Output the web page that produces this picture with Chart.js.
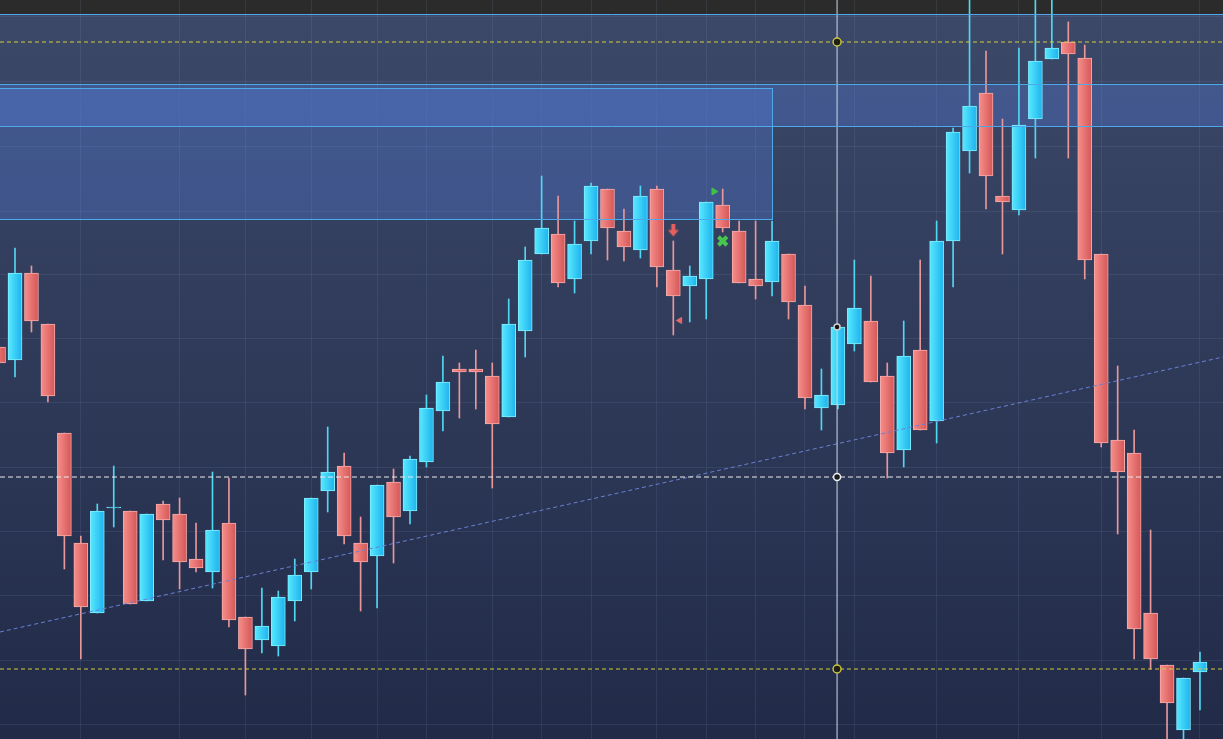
<!DOCTYPE html>
<html>
<head>
<meta charset="utf-8">
<script src="https://cdn.jsdelivr.net/npm/chart.js@4.4.1/dist/chart.umd.min.js"></script>
<style>
  html, body { margin: 0; padding: 0; overflow: hidden; background: #2b3654; }
  #wrap { width: 1223px; height: 739px; position: relative; }
</style>
</head>
<body>
<div id="wrap"><canvas id="chart"></canvas></div>
<script>
// candle values (points)
const opens  = [392,379,466,415,306,196,126,231,228,138,235,225,180,167,216,122,99,93,138,167,248,273,196,183,257,228,277,328,370,370,363,322,408,485,505,460,498,550,508,489,550,469,453,460,534,508,460,457,485,434,331,334,395,418,363,289,389,318,498,588,646,543,529,620,680,697,681,485,299,286,126,74,9,67];
const highs  = [395,491,473,415,306,203,235,273,228,225,238,241,216,267,261,122,151,148,180,241,312,286,222,254,270,283,344,383,376,389,376,440,492,563,543,518,556,550,530,553,553,498,473,537,550,518,518,518,485,453,370,415,479,463,376,418,479,518,611,759,688,620,691,759,759,717,694,485,373,309,209,74,61,87];
const lows   = [373,362,407,337,170,80,126,212,135,138,179,150,167,151,112,44,86,83,118,150,227,195,128,131,176,215,272,308,321,330,251,322,382,485,452,446,485,479,478,481,452,404,417,420,507,456,440,443,420,330,309,330,388,357,261,272,309,296,452,566,530,485,524,581,680,581,460,292,205,80,70,-21,-21,29];
const closes = [376,466,418,343,203,132,228,232,135,225,219,177,171,209,119,90,113,142,164,241,267,203,177,254,222,280,331,357,367,367,315,415,479,511,456,495,553,511,492,543,472,443,463,537,511,456,453,498,437,341,344,412,431,357,286,383,309,498,607,633,563,537,614,678,691,685,479,296,267,110,80,36,61,77];

// grid positions (candle index / price points)
const gridX = [5, 11, 15, 19, 23, 26, 30, 33, 36, 40, 43, 46, 49, 52, 57, 62, 67, 73];
const gridY = [15, 79, 144, 208, 272, 336, 401, 465, 528, 593, 658, 722];

// drawn levels and zones
const topLevel = 725;
const yellowHigh = 697;
const yellowLow = 70;
const whiteLevel = 262;
const band = [613, 655];
const box = { to: 47, lo: 520, hi: 651 };
const crossIdx = 50.95;
const crossMarks = [697, 412, 262, 70];
const trendX = [0.0886, 74.4];
const trendY = [107, 382];

// signal markers
const downArrow = { x: 41, y: 508.5 };
const greenTri = { x: 43.47, y: 547.5 };
const greenCross = { x: 44, y: 498 };
const redTri = { x: 41.4, y: 418.5 };

const X_MIN = 0.0886, X_MAX = 74.4;

const isUp = i => closes[i] >= opens[i];
const bodies = opens.map((o, i) => ({ x: i, y: [o, closes[i]] }));
const wicks = opens.map((o, i) => ({ x: i, y: [lows[i], highs[i]] }));
const wickColors = opens.map((o, i) => isUp(i) ? '#4fd8f2' : '#e8979a');
const bodyBorders = opens.map((o, i) => isUp(i) ? '#7eeeff' : '#f6a9a9');

function bodyFill(ctx) {
  const i = ctx.dataIndex;
  if (ctx.type !== 'data' || i === undefined) return '#30cdf5';
  const up = isUp(i);
  const xs = ctx.chart.scales.x;
  const px = xs ? xs.getPixelForValue(i) : NaN;
  if (!isFinite(px)) return up ? '#30cdf5' : '#e46f6f';
  const g = ctx.chart.ctx.createLinearGradient(px - 7, 0, px + 7, 0);
  if (up) { g.addColorStop(0, '#58e9fe'); g.addColorStop(1, '#1db2ee'); }
  else { g.addColorStop(0, '#f68e8a'); g.addColorStop(1, '#d45757'); }
  return g;
}

function hline(v, color, dash) {
  return {
    type: 'line', data: [{ x: X_MIN, y: v }, { x: X_MAX, y: v }],
    borderColor: color, borderWidth: 1, borderDash: dash, pointRadius: 0, order: 3
  };
}

const arrowImg = document.createElement('canvas');
arrowImg.width = 11; arrowImg.height = 14;
(function () {
  const a = arrowImg.getContext('2d');
  a.fillStyle = '#e6615d';
  a.fillRect(3.5, 0, 4, 7);
  a.beginPath(); a.moveTo(0, 6.5); a.lineTo(11, 6.5); a.lineTo(5.5, 13); a.closePath(); a.fill();
})();

const scene = {
  id: 'scene',
  beforeDraw(chart) {
    const { ctx, width, height, scales: { y } } = chart;
    ctx.save();
    const g = ctx.createLinearGradient(0, 0, 0, height);
    g.addColorStop(0, '#3d4969');
    g.addColorStop(0.5, '#2f3a59');
    g.addColorStop(1, '#212b48');
    ctx.fillStyle = g;
    ctx.fillRect(0, 0, width, height);
    ctx.fillStyle = '#2b2b2c';
    ctx.fillRect(0, 0, width, y.getPixelForValue(topLevel));
    ctx.restore();
  },
  beforeDatasetsDraw(chart) {
    const { ctx, chartArea: a, scales: { x, y } } = chart;
    ctx.save();
    ctx.fillStyle = 'rgba(85,128,225,0.33)';
    const bt = y.getPixelForValue(band[1]), bb = y.getPixelForValue(band[0]);
    ctx.fillRect(a.left, bt, a.right - a.left, bb - bt);
    const r = x.getPixelForValue(box.to);
    const t = y.getPixelForValue(box.hi), b = y.getPixelForValue(box.lo);
    ctx.fillRect(a.left, t, r - a.left, b - t);
    ctx.restore();
  },
  afterDatasetsDraw(chart) {
    const { ctx, chartArea: a, scales: { x, y } } = chart;
    ctx.save();
    ctx.strokeStyle = '#4ea8ea';
    ctx.lineWidth = 1;
    const line = (x1, y1, x2, y2) => {
      ctx.beginPath(); ctx.moveTo(x1, y1); ctx.lineTo(x2, y2); ctx.stroke();
    };
    const ty = Math.round(y.getPixelForValue(topLevel)) + 0.5;
    line(a.left, ty, a.right, ty);
    const bt = Math.round(y.getPixelForValue(band[1])) + 0.5, bb = Math.round(y.getPixelForValue(band[0])) + 0.5;
    line(a.left, bt, a.right, bt);
    line(a.left, bb, a.right, bb);
    const r = Math.round(x.getPixelForValue(box.to)) + 0.5;
    const t = Math.round(y.getPixelForValue(box.hi)) + 0.5, b = Math.round(y.getPixelForValue(box.lo)) + 0.5;
    ctx.strokeRect(a.left - 1, t, r - a.left + 1, b - t);
    ctx.restore();
  }
};

new Chart(document.getElementById('chart'), {
  type: 'bar',
  data: {
    datasets: [
      {
        data: wicks, backgroundColor: wickColors, grouped: false,
        maxBarThickness: 1, barPercentage: 1, categoryPercentage: 1, order: 6
      },
      {
        data: bodies, backgroundColor: bodyFill, borderColor: bodyBorders,
        borderWidth: 1, borderSkipped: false, grouped: false,
        maxBarThickness: 14, barPercentage: 1, categoryPercentage: 1, order: 5
      },
      {
        type: 'line', data: [{ x: trendX[0], y: trendY[0] }, { x: trendX[1], y: trendY[1] }],
        borderColor: '#6a80d4', borderWidth: 1, borderDash: [4, 3], pointRadius: 0, order: 4
      },
      hline(yellowHigh, '#d2cc3a', [4, 3]),
      hline(yellowLow, '#d2cc3a', [4, 3]),
      hline(whiteLevel, '#ececee', [5, 3]),
      {
        type: 'line', data: [{ x: crossIdx, y: -20 }, { x: crossIdx, y: 760 }],
        borderColor: '#cbdbe6', borderWidth: 1, pointRadius: 0, order: 2
      },
      {
        type: 'line', showLine: false,
        data: crossMarks.map(v => ({ x: crossIdx, y: v })),
        pointRadius: [4, 3, 3.5, 4],
        pointBackgroundColor: ['#1e2016', '#141414', '#1a1c22', '#1e2016'],
        pointBorderColor: ['#c9c43c', '#d0d0d0', '#f0f0f0', '#c9c43c'],
        pointBorderWidth: 1.5, order: 1
      },
      {
        type: 'line', showLine: false, data: [downArrow],
        pointStyle: arrowImg, order: 0
      },
      {
        type: 'line', showLine: false, data: [greenTri],
        pointStyle: 'triangle', rotation: 90, pointRadius: 4,
        pointBackgroundColor: '#3ec24c', pointBorderColor: '#3ec24c', order: 0
      },
      {
        type: 'line', showLine: false, data: [greenCross],
        pointStyle: 'crossRot', pointRadius: 6, pointBorderWidth: 4,
        pointBorderColor: '#46c64c', order: 0
      },
      {
        type: 'line', showLine: false, data: [redTri],
        pointStyle: 'triangle', rotation: -90, pointRadius: 3.5,
        pointBackgroundColor: '#e8676a', pointBorderColor: '#e8676a', order: 0
      }
    ]
  },
  options: {
    responsive: true,
    maintainAspectRatio: false,
    animation: false,
    events: [],
    layout: { padding: 0, autoPadding: false },
    plugins: { legend: { display: false }, tooltip: { enabled: false } },
    scales: {
      x: {
        type: 'linear', min: X_MIN, max: X_MAX, offset: false,
        grid: { color: 'rgba(150,165,205,0.12)', drawTicks: false, offset: false },
        border: { display: false },
        ticks: { display: false },
        afterBuildTicks: s => { s.ticks = gridX.map(v => ({ value: v })); }
      },
      y: {
        type: 'linear', min: 0, max: 739,
        grid: { color: 'rgba(150,165,205,0.12)', drawTicks: false, offset: false },
        border: { display: false },
        ticks: { display: false },
        afterBuildTicks: s => { s.ticks = gridY.map(v => ({ value: v })); }
      }
    }
  },
  plugins: [scene]
});
</script>
</body>
</html>
